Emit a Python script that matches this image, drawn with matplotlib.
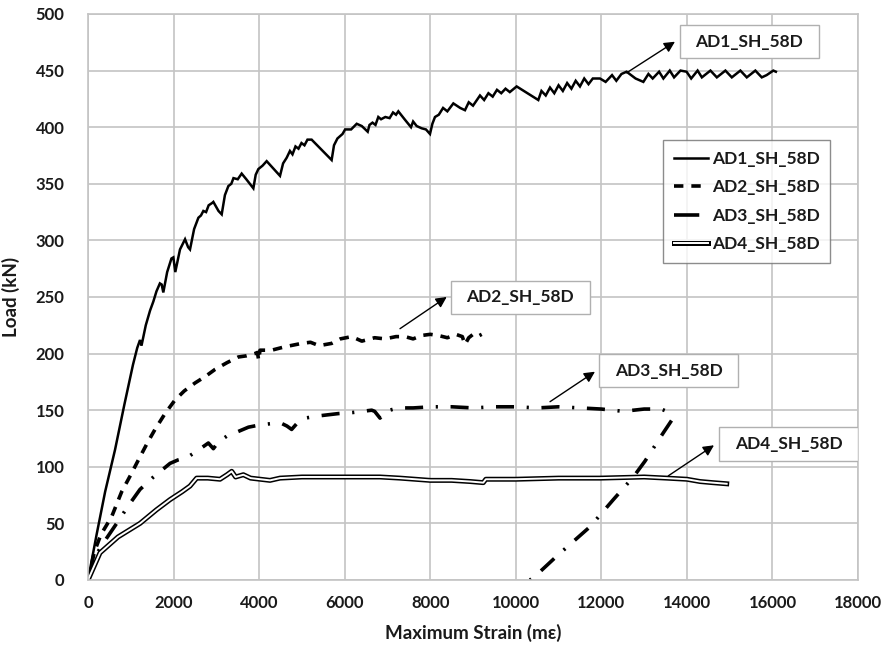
import matplotlib
matplotlib.use("Agg")
import matplotlib.pyplot as plt
from matplotlib.lines import Line2D
from matplotlib.patches import Rectangle

plt.rcParams['font.family'] = ['Lato', 'DejaVu Sans']
plt.rcParams['font.weight'] = 'bold'

# --- data (strain in micro-strain, load in kN) ---
ad1_strain = [0, 200, 400, 631, 850, 1050, 1150, 1215, 1250, 1350, 1450, 1527, 1600, 1680,
              1722, 1760, 1850, 1950, 1995, 2040, 2150, 2268, 2340, 2384, 2480, 2580, 2640,
              2696, 2760, 2820, 2900, 2930, 3050, 3125, 3200, 3281, 3350, 3400, 3500, 3592,
              3700, 3865, 3920, 3982, 4080, 4176, 4488, 4560, 4644, 4720, 4780, 4850, 4920,
              4990, 5060, 5130, 5227, 5695, 5750, 5830, 5890, 5950, 6010, 6080, 6150, 6281,
              6400, 6538, 6580, 6650, 6720, 6786, 6850, 6950, 7050, 7130, 7200, 7254, 7400,
              7550, 7600, 7683, 7800, 7900, 7994, 8050, 8111, 8200, 8300, 8400, 8540, 8700,
              8812, 8900, 9000, 9163, 9260, 9360, 9460, 9560, 9660, 9760, 9860, 10020, 10526,
              10600, 10700, 10800, 10900, 11000, 11100, 11200, 11300, 11400, 11500, 11600,
              11700, 11800, 11968, 12100, 12250, 12350, 12470, 12590, 12800, 12982, 13100,
              13200, 13350, 13450, 13600, 13700, 13850, 13992, 14100, 14250, 14350, 14550,
              14700, 14900, 15050, 15250, 15400, 15600, 15750, 15864, 16020, 16080]
ad1_load = [0, 40, 78, 115, 155, 190, 205, 212, 207, 225, 238, 246, 255, 262,
            261, 254, 272, 284, 285, 272, 292, 301, 294, 292, 310, 320, 322,
            326, 325, 331, 333, 334, 326, 323, 340, 348, 350, 355, 354, 359,
            354, 346, 358, 363, 366, 370, 357, 368, 373, 379, 376, 383, 381,
            386, 384, 389, 389, 371, 384, 390, 392, 394, 398, 398, 398, 403,
            401, 396, 402, 404, 402, 409, 407, 409, 408, 413, 411, 414, 407,
            400, 405, 401, 399, 398, 394, 403, 409, 411, 417, 414, 421, 417,
            415, 422, 419, 428, 424, 430, 427, 433, 430, 434, 431, 436, 424,
            432, 428, 435, 430, 437, 432, 439, 434, 441, 436, 443,
            438, 443, 443, 440, 446, 441, 447, 449, 443, 440, 447,
            443, 449, 443, 450, 444, 450, 449, 443, 450, 444, 450,
            444, 450, 444, 450, 444, 450, 444, 446, 450, 449]

ad2_strain = [0, 150, 300, 553, 787, 1000, 1177, 1400, 1566, 1800, 2034, 2250, 2500, 2750,
              2969, 3250, 3514, 3700, 3900, 3960, 3990, 4020, 4293, 4600, 4994, 5200, 5400,
              5695, 5900, 6163, 6400, 6700, 6943, 7200, 7410, 7600, 7800, 8000, 8189, 8400,
              8600, 8750, 8812, 8900, 9000, 9100, 9203]
ad2_load = [0, 25, 40, 56, 78, 93, 106, 122, 133, 147, 159, 167, 174, 180,
            186, 192, 197, 198, 200, 201, 194, 203, 203, 206, 209, 210, 207,
            209, 213, 215, 211, 214, 213, 215, 215, 213, 216, 217, 216, 214,
            217, 215, 208, 214, 217, 215, 217]

ad3_strain = [0, 150, 400, 670, 950, 1215, 1500, 1917, 2100, 2307, 2550, 2813, 2930, 3050,
              3242, 3500, 3750, 4020, 4250, 4488, 4650, 4760, 4900, 5072, 5400, 5852, 6200,
              6632, 6700, 6826, 6950, 7254, 7600, 8033, 8500, 9000, 9500, 10000, 10500,
              11000, 11500, 12000, 12513, 13000, 13400, 13526, 13643, 13448, 13020, 12748,
              12280, 11734, 10955, 10500, 10332]
ad3_load = [0, 20, 35, 50, 66, 80, 90, 103, 106, 108, 114, 121, 116, 122,
            127, 131, 135, 137, 138, 139, 136, 133, 139, 143, 145, 147, 148,
            150, 149, 143, 149, 152, 152, 153, 153, 152, 153, 153, 152,
            153, 152, 151, 149, 151, 151, 149, 141, 130, 105, 91,
            71, 47, 21, 5, 0]

ad4_strain = [0, 280, 700, 1215, 1600, 1917, 2200, 2384, 2540, 2800, 3086, 3250, 3359, 3450,
              3631, 3800, 4254, 4488, 5000, 6000, 6826, 7293, 8000, 8500, 8929, 9240, 9300,
              10000, 11000, 11968, 13000, 13527, 14000, 14306, 14600, 14930]
ad4_load = [0, 24, 38, 50, 62, 71, 78, 83, 90, 90, 89, 93, 96, 91,
            93, 90, 88, 90, 91, 91, 91, 90, 88, 88, 87, 86, 89,
            89, 90, 90, 91, 90, 89, 87, 86, 85]

labels = ['AD1_SH_58D', 'AD2_SH_58D', 'AD3_SH_58D', 'AD4_SH_58D']
# callout boxes: centre of box, arrow tail (on curve), arrow head
box_centres = [(15452, 475.6), (10106, 249.7), (13577, 184.9), (16379, 120.1)]
arrow_tails = [(12590, 448), (7293, 222), (10800, 157.5), (13565, 92)]
arrow_heads = [(13721, 475.5), (8385, 250), (11851, 184), (14633, 119)]

text_col = '#1a1a1a'
grid_col = '#c4c4c4'

fig = plt.figure(figsize=(8.82, 6.5), dpi=100)
ax = fig.add_axes([0.0998, 0.1077, 0.873, 0.8708])

ax.plot(ad1_strain, ad1_load, color='black', lw=1.8, solid_joinstyle='miter')
ax.plot(ad2_strain, ad2_load, color='black', lw=2.6, dashes=(2.6, 2.2))
ax.plot(ad3_strain, ad3_load, color='black', lw=2.6, dashes=(5.0, 3.5, 0.6, 3.5))
ax.plot(ad4_strain, ad4_load, color='black', lw=3.6)
ax.plot(ad4_strain, ad4_load, color='white', lw=1.4)

# callouts
bw, bh = 3249, 29.4
for lab, (cx, cy), tail, head in zip(labels, box_centres, arrow_tails, arrow_heads):
    ax.annotate('', xy=head, xytext=tail,
                arrowprops=dict(arrowstyle='-|>', color='black', lw=1.0,
                                mutation_scale=16, shrinkA=0, shrinkB=0))
    ax.add_patch(Rectangle((cx - bw / 2, cy - bh / 2), bw, bh, facecolor='white',
                           edgecolor='#b0b0b0', lw=1.0, zorder=4))
    ax.text(cx, cy, lab, ha='center', va='center', fontsize=12.5, fontweight='bold',
            color=text_col, zorder=5)

ax.set_xlim(0, 18000)
ax.set_ylim(0, 500)
ax.set_xticks(range(0, 18001, 2000))
ax.set_yticks(range(0, 501, 50))
ax.grid(True, color=grid_col, lw=1.2)
ax.set_axisbelow(True)
for s in ax.spines.values():
    s.set_color(grid_col)
    s.set_linewidth(1.2)
ax.tick_params(length=0, labelsize=12, colors=text_col)
ax.tick_params(axis='x', pad=11)
ax.tick_params(axis='y', pad=17)
for t in ax.get_xticklabels() + ax.get_yticklabels():
    t.set_fontweight('bold')

ax.set_xlabel('Maximum Strain (mε)', fontsize=13.5, fontweight='bold', color=text_col, labelpad=9)
ax.set_ylabel('Load (kN)', fontsize=13.5, fontweight='bold', color=text_col, labelpad=11)

handles = [Line2D([], [], color='black', lw=1.8),
           Line2D([], [], color='black', lw=2.6, dashes=(2.6, 2.2)),
           Line2D([], [], color='black', lw=2.6, dashes=(7.0, 12.0)),
           (Line2D([], [], color='black', lw=3.6), Line2D([], [], color='white', lw=1.4))]
leg = ax.legend(handles, labels, loc='upper left', bbox_to_anchor=(0.747, 0.777),
                frameon=True, fancybox=False, handlelength=2.0,
                handletextpad=0.2, labelspacing=0.72, borderpad=0.6, borderaxespad=0,
                prop={'weight': 'bold', 'size': 12.5})
leg.get_frame().set_edgecolor('#707070')
leg.get_frame().set_linewidth(1.0)
for t in leg.get_texts():
    t.set_color(text_col)

fig.savefig('out.png', dpi=100)
